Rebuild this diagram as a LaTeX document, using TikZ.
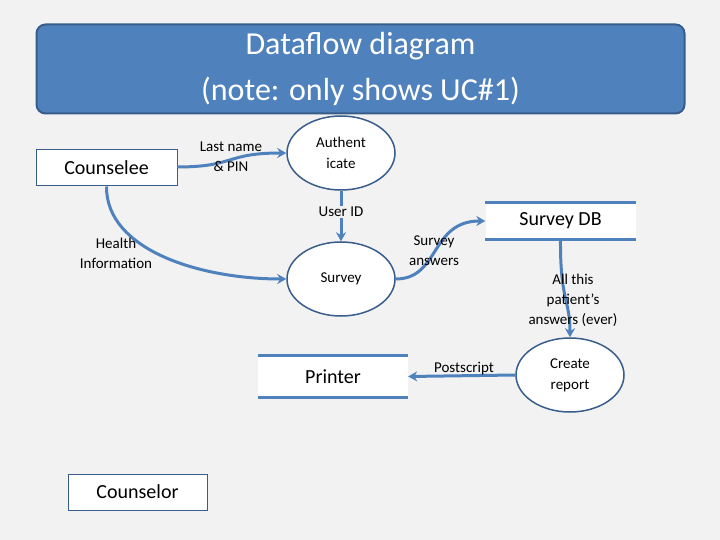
\documentclass[tikz,border=0pt]{standalone}
\usepackage{fontspec}
\setmainfont{Carlito}
\usetikzlibrary{shapes.geometric,arrows.meta}
\definecolor{bl}{HTML}{4F81BD}
\definecolor{bd}{HTML}{385D8A}
\definecolor{bg}{HTML}{F2F2F2}
\begin{document}
\begin{tikzpicture}[x=1pt,y=-1pt,
 box/.style={draw=bd,fill=white,line width=1pt,minimum width=#1,minimum height=36pt,font=\fontsize{20}{22}\selectfont},
 proc/.style={ellipse,draw=bd,fill=white,line width=1.5pt,minimum width=108pt,minimum height=74pt,align=center,font=\fontsize{15}{21}\selectfont,inner sep=0pt},
 store/.style={fill=white,minimum width=150pt,minimum height=#1,font=\fontsize{20}{22}\selectfont},
 flow/.style={draw=bl,line width=3pt,-{Stealth[length=9pt,width=10pt]}},
 lbl/.style={align=center,font=\fontsize{15}{20}\selectfont}]
\fill[bg] (0,0) rectangle (720,540);
\useasboundingbox (0,0) rectangle (720,540);
\node[draw=bd,fill=bl,line width=2pt,rounded corners=9pt,minimum width=648pt,minimum height=89pt,align=center,text=white,font=\fontsize{32}{46}\selectfont] (title) at (360.5,69) {Dataflow diagram\\(note: only shows UC\#1)};
\node[box=141pt] (counselee) at (106.5,168) {Counselee};
\node[box=139pt] (counselor) at (137.5,492) {Counselor};
\node[proc] (auth) at (341,153) {Authent\\icate};
\node[proc] (survey) at (341,279) {Survey};
\node[proc] (report) at (570,375) {Create\\report};
\node[store=36pt] (db) at (560.5,221) {Survey DB};
\draw[bl,line width=3pt] (db.north west)--(db.north east) (db.south west)--(db.south east);
\node[store=41pt] (printer) at (333,376.5) {Printer};
\draw[bl,line width=3pt] (printer.north west)--(printer.north east) (printer.south west)--(printer.south east);
\coordinate (c1) at (177,167);
\draw[flow] (c1) .. controls (235,167) and (225,153) .. (auth.west);
\draw[flow] (counselee.south) .. controls (106,250) and (200,279) .. (survey.west);
\draw[flow] (auth.south) -- (survey.north);
\draw[flow] (survey.east) .. controls (440,279) and (430,221) .. (db.west);
\draw[flow] (db.south) .. controls (560,300) and (570,300) .. (report.north);
\draw[flow] (report.west) -- (printer.east);
\node[lbl] at (231,157) {Last name\\\& PIN};
\node[lbl,fill=bg,inner sep=1pt] at (341,212) {User ID};
\node[lbl] at (116,253) {Health\\Information};
\node[lbl] at (434,251) {Survey\\answers};
\node[lbl] at (573,300) {All this\\patient’s\\answers (ever)};
\node[lbl] at (464,369) {Postscript};
\end{tikzpicture}
\end{document}
